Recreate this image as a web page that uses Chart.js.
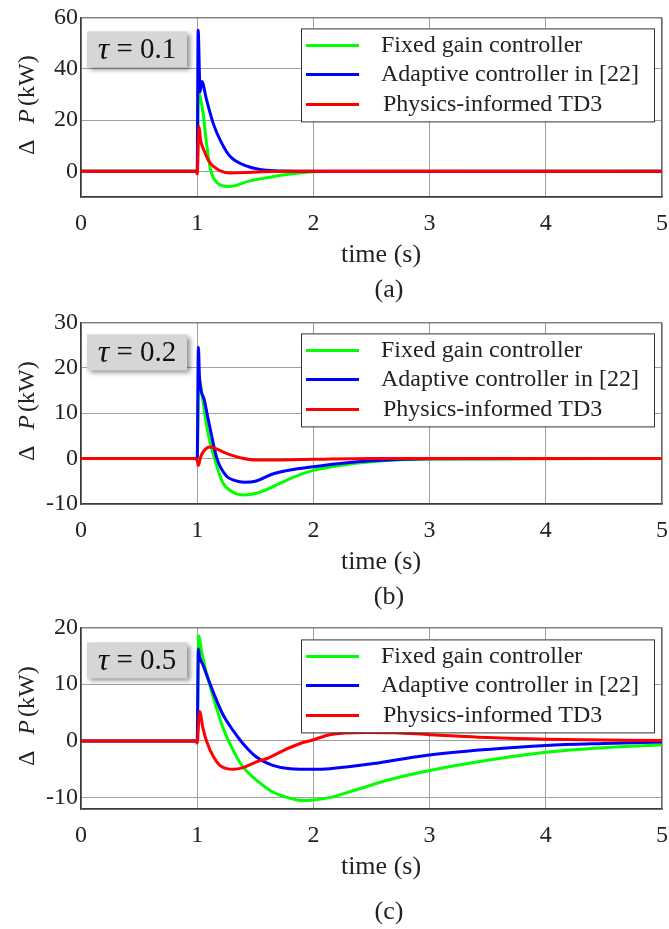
<!DOCTYPE html>
<html>
<head>
<meta charset="utf-8">
<script src="https://cdn.jsdelivr.net/npm/chart.js@4.4.1/dist/chart.umd.min.js"></script>
<style>
  html, body { margin: 0; padding: 0; background: #ffffff; }
  #wrap { position: relative; width: 669px; height: 929px; overflow: hidden; background: #fff; }
  canvas { position: absolute; left: 0; }
</style>
</head>
<body>
<div id="wrap">
  <canvas id="chartA" width="669" height="305" style="top:0px"></canvas>
  <canvas id="chartB" width="669" height="305" style="top:305px"></canvas>
  <canvas id="chartC" width="669" height="319" style="top:610px"></canvas>
</div>
<script>
// Power deviation ΔP (kW) after a disturbance at t = 1 s, for three time constants.
const seriesNames = ['Fixed gain controller', 'Adaptive controller in [22]', 'Physics-informed TD3'];
const seriesColors = ['#00ff00', '#0000ff', '#ff0000'];
const xTicks = [0, 1, 2, 3, 4, 5];

// (a) τ = 0.1
const tFixedA = [0, 1.0, 1.012, 1.03, 1.05, 1.08, 1.115, 1.17, 1.22, 1.28, 1.35, 1.43, 1.52, 1.6, 1.72, 1.88, 2.1, 5];
const pFixedA = [0, 0, 31, 28, 23, 11, 0.6, -4.4, -5.6, -5.9, -5.3, -4.0, -3.1, -2.5, -1.5, -0.6, -0.1, 0];
const tAdaptA = [0, 1.0, 1.008, 1.025, 1.04, 1.08, 1.14, 1.2, 1.28, 1.43, 1.57, 1.75, 2, 5];
const pAdaptA = [0, 0, 55, 31, 35, 28, 18.4, 12, 6, 2, 0.5, 0.1, 0, 0];
const tPinnA  = [0, 0.99, 1.0, 1.015, 1.03, 1.06, 1.1, 1.14, 1.2, 1.28, 1.4, 1.55, 1.8, 5];
const pPinnA  = [0, 0, -1, 17.5, 12, 8, 4, 1.9, 0.2, -0.6, -0.5, -0.2, 0, 0];
const yTicksA = [0, 20, 40, 60];

// (b) τ = 0.2
const tFixedB = [0, 1.0, 1.015, 1.05, 1.09, 1.15, 1.22, 1.3, 1.4, 1.5, 1.65, 1.8, 2.0, 2.23, 2.5, 3.0, 5];
const pFixedB = [0, 0, 17.5, 12.5, 6, 0, -5.3, -7.3, -8.0, -7.7, -6.2, -4.4, -2.6, -1.5, -0.7, -0.1, 0];
const tAdaptB = [0, 1.0, 1.01, 1.02, 1.06, 1.1, 1.17, 1.25, 1.32, 1.41, 1.5, 1.65, 1.8, 2.0, 2.23, 2.5, 3.0, 5];
const pAdaptB = [0, 0, 24.5, 17.8, 13.0, 8.0, 0, -3.8, -4.8, -5.2, -5.0, -3.4, -2.5, -1.8, -1.1, -0.5, -0.05, 0];
const tPinnB  = [0, 0.99, 1.0, 1.01, 1.03, 1.06, 1.11, 1.16, 1.22, 1.3, 1.37, 1.5, 1.7, 2.0, 2.5, 5];
const pPinnB  = [0, 0, -0.5, -1.5, 0.4, 1.8, 2.55, 2.2, 1.5, 0.7, 0.2, -0.3, -0.3, -0.15, 0, 0];
const yTicksB = [-10, 0, 10, 20, 30];

// (c) τ = 0.5
const tFixedC = [0, 1.0, 1.012, 1.04, 1.08, 1.14, 1.22, 1.27, 1.37, 1.42, 1.51, 1.65, 1.8, 1.91, 2.0, 2.14, 2.37, 2.66, 3.0, 3.5, 4.0, 4.5, 5];
const pFixedC = [0, 0, 18.5, 15.5, 12.0, 7.6, 2.4, 0, -3.9, -5.2, -6.9, -9.0, -10.1, -10.5, -10.4, -10.0, -8.6, -6.8, -5.2, -3.4, -2.0, -1.2, -0.7];
const tAdaptC = [0, 1.0, 1.01, 1.02, 1.05, 1.08, 1.14, 1.22, 1.31, 1.395, 1.51, 1.65, 1.8, 2.0, 2.14, 2.52, 2.95, 3.5, 4.0, 4.5, 5];
const pAdaptC = [0, 0, 16.2, 14.8, 13.4, 11.7, 8.5, 4.7, 1.8, -0.5, -2.85, -4.3, -4.9, -5.0, -4.9, -4.0, -2.6, -1.5, -0.8, -0.45, -0.2];
const tPinnC  = [0, 0.99, 1.0, 1.02, 1.05, 1.08, 1.14, 1.195, 1.31, 1.395, 1.51, 1.6, 1.74, 1.88, 2.0, 2.14, 2.45, 2.7, 3.0, 3.5, 4.0, 5];
const pPinnC  = [0, 0, -0.4, 5.2, 2.2, 0, -2.8, -4.3, -5.0, -4.7, -3.7, -3.1, -1.7, -0.5, 0.2, 1.1, 1.5, 1.45, 1.1, 0.6, 0.3, 0.05];
const yTicksC = [-10, 0, 10, 20];

const SERIF = "'Liberation Serif', 'Times New Roman', serif";
const TEXT = '#222222';

function pairs(t, p) { return t.map((x, i) => ({ x: x, y: p[i] })); }

// Axis titles, caption, τ badge and the boxed legend
const panelText = {
  id: 'panelText',
  beforeDatasetsDraw(chart, args, o) {
    const { ctx, chartArea: a } = chart;
    ctx.save();
    ctx.strokeStyle = '#6a6a6a';
    ctx.lineWidth = 1;
    ctx.strokeRect(a.left + 0.5, a.top + 0.5, a.right - a.left - 1, a.bottom - a.top);
    ctx.restore();
  },
  afterDraw(chart, args, o) {
    const { ctx, chartArea: a } = chart;
    ctx.save();
    ctx.fillStyle = TEXT;
    ctx.textBaseline = 'middle';

    // y-axis title: Δ P(kW), with P in italics
    const cy = (a.top + a.bottom) / 2 - 2;
    ctx.save();
    ctx.translate(28, cy);
    ctx.rotate(-Math.PI / 2);
    const parts = [
      { s: 'Δ', f: '24px ' + SERIF, gap: 16 },
      { s: 'P', f: 'italic 24px ' + SERIF, gap: 3 },
      { s: '(kW)', f: '24px ' + SERIF, gap: 0 }
    ];
    let total = 0;
    parts.forEach(p => { ctx.font = p.f; p.w = ctx.measureText(p.s).width; total += p.w + p.gap; });
    let x = -total / 2;
    ctx.textAlign = 'left';
    parts.forEach(p => { ctx.font = p.f; ctx.fillText(p.s, x, 0); x += p.w + p.gap; });
    ctx.restore();

    // x-axis title and panel caption
    ctx.textAlign = 'center';
    ctx.font = '26px ' + SERIF;
    ctx.fillText('time (s)', 381, a.bottom + 58);
    ctx.fillText(o.caption, 389, a.bottom + o.captionGap);

    // τ badge
    const bx = 87, by = a.top + o.badgeGap, bw = 100, bh = 36;
    ctx.save();
    ctx.shadowColor = 'rgba(0,0,0,0.45)';
    ctx.shadowBlur = 5;
    ctx.shadowOffsetX = 3;
    ctx.shadowOffsetY = 3;
    ctx.fillStyle = '#d6d6d6';
    ctx.fillRect(bx, by, bw, bh);
    ctx.restore();
    ctx.font = 'italic 32px ' + SERIF;
    const tw = ctx.measureText('τ').width;
    ctx.font = '29px ' + SERIF;
    const rest = ' = ' + o.tau;
    const rw = ctx.measureText(rest).width;
    let tx = bx + bw / 2 - (tw + rw) / 2;
    ctx.textAlign = 'left';
    ctx.fillStyle = '#111';
    ctx.font = 'italic 32px ' + SERIF;
    ctx.fillText('τ', tx, by + bh / 2 + 1);
    ctx.font = '29px ' + SERIF;
    ctx.fillText(rest, tx + tw, by + bh / 2 + 1);

    // legend box
    const lx = 301, ly = a.top + o.legendGap, lw = 353, lh = 93;
    ctx.fillStyle = '#ffffff';
    ctx.fillRect(lx, ly, lw, lh);
    ctx.strokeStyle = '#333333';
    ctx.lineWidth = 1;
    ctx.strokeRect(lx + 0.5, ly + 0.5, lw, lh);
    const rowY = [17, 46, 76];
    const textX = [381, 381, 383];
    ctx.font = '24px ' + SERIF;
    chart.data.datasets.forEach((ds, i) => {
      const y = ly + rowY[i];
      ctx.strokeStyle = ds.borderColor;
      ctx.lineWidth = 3;
      ctx.beginPath();
      ctx.moveTo(306, y);
      ctx.lineTo(359, y);
      ctx.stroke();
      ctx.fillStyle = TEXT;
      ctx.fillText(ds.label, textX[i], y);
    });
    ctx.restore();
  }
};

function makeChart(id, series, yMin, yMax, yTicks, opts) {
  const canvas = document.getElementById(id);
  const orders = [2, 1, 0];
  return new Chart(canvas, {
    type: 'line',
    data: {
      datasets: series.map((s, i) => ({
        label: seriesNames[i],
        data: pairs(s[0], s[1]),
        borderColor: seriesColors[i],
        backgroundColor: seriesColors[i],
        borderWidth: 3,
        pointRadius: 0,
        fill: false,
        cubicInterpolationMode: 'monotone',
        order: orders[i]
      }))
    },
    options: {
      responsive: false,
      animation: false,
      devicePixelRatio: 1,
      layout: { padding: { top: opts.plotTop, right: 7, left: 0, bottom: 0 } },
      plugins: {
        legend: { display: false },
        tooltip: { enabled: false },
        panelText: opts
      },
      scales: {
        x: {
          type: 'linear',
          min: 0, max: 5,
          afterBuildTicks: s => { s.ticks = xTicks.map(v => ({ value: v })); },
          afterFit: s => { s.height = canvas.height - opts.plotBottom; },
          ticks: { font: { family: SERIF, size: 24, lineHeight: 2.25 }, color: TEXT, padding: 0, maxRotation: 0, autoSkip: false },
          grid: { color: '#a0a0a0', lineWidth: 1, drawTicks: false },
          border: { display: true, color: '#3a3a3a', width: 1.5 }
        },
        y: {
          type: 'linear',
          min: yMin, max: yMax,
          afterBuildTicks: s => { s.ticks = yTicks.map(v => ({ value: v })); },
          afterFit: s => { s.width = 81; },
          ticks: { font: { family: SERIF, size: 24 }, color: TEXT, padding: 3, autoSkip: false },
          grid: { color: '#a0a0a0', lineWidth: 1, drawTicks: false },
          border: { display: true, color: '#3a3a3a', width: 1.5 }
        }
      }
    },
    plugins: [panelText]
  });
}

makeChart('chartA',
  [[tFixedA, pFixedA], [tAdaptA, pAdaptA], [tPinnA, pPinnA]],
  -10, 60, yTicksA,
  { plotTop: 14, plotBottom: 197, caption: '(a)', captionGap: 93, tau: '0.1', badgeGap: 14, legendGap: 11 });

makeChart('chartB',
  [[tFixedB, pFixedB], [tAdaptB, pAdaptB], [tPinnB, pPinnB]],
  -10, 30, yTicksB,
  { plotTop: 16, plotBottom: 199, caption: '(b)', captionGap: 93, tau: '0.2', badgeGap: 12, legendGap: 11 });

makeChart('chartC',
  [[tFixedC, pFixedC], [tAdaptC, pAdaptC], [tPinnC, pPinnC]],
  -12, 20, yTicksC,
  { plotTop: 15, plotBottom: 199, caption: '(c)', captionGap: 103, tau: '0.5', badgeGap: 15, legendGap: 12 });
</script>
</body>
</html>
